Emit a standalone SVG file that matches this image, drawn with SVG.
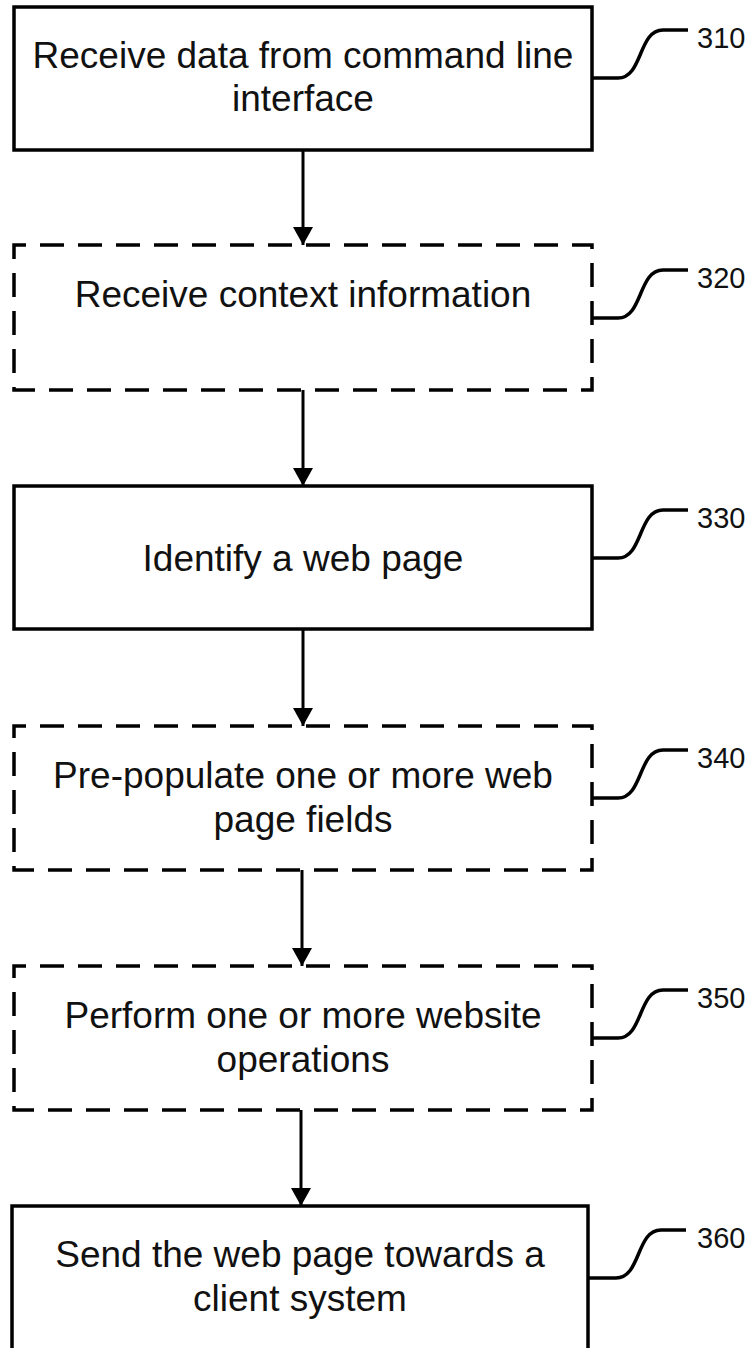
<svg xmlns="http://www.w3.org/2000/svg" width="755" height="1348" viewBox="0 0 755 1348">
<style>
.box{fill:#fff;stroke:#000;stroke-width:3.5}
.dash{stroke-dasharray:24 14;stroke-dashoffset:12}
.t{font-family:"Liberation Sans",Arial,sans-serif;font-size:37px;fill:#111;text-anchor:middle}
.lbl{font-family:"Liberation Sans",Arial,sans-serif;font-size:29px;fill:#111}
.lead{fill:none;stroke:#000;stroke-width:3.5}
.arr{fill:none;stroke:#000;stroke-width:3;marker-end:url(#ah)}
</style>
<defs>
<marker id="ah" viewBox="0 0 18 20" refX="18" refY="10" markerWidth="18" markerHeight="20" markerUnits="userSpaceOnUse" orient="auto">
<path d="M0,0 L18,10 L0,20 Z" fill="#000"/>
</marker>
</defs>
<rect width="755" height="1348" fill="#fff"/>
<g id="connectors">
<line class="arr" x1="303" y1="150" x2="303" y2="245"/>
<line class="arr" x1="303" y1="390" x2="303" y2="486"/>
<line class="arr" x1="303" y1="629" x2="303" y2="726"/>
<line class="arr" x1="302" y1="870" x2="302" y2="966"/>
<line class="arr" x1="301" y1="1110" x2="301" y2="1206"/>
</g>
<g id="n310">
<rect class="box" x="14" y="7" width="578" height="143"/>
<text class="t" x="303" y="68">Receive data from command line</text>
<text class="t" x="303" y="111">interface</text>
<path class="lead" d="M592,78 H618 C643,78 638,30 663,30 H688"/>
<text class="lbl" x="697" y="48">310</text>
</g>
<g id="n320">
<rect class="box dash" x="14" y="245" width="578" height="145"/>
<text class="t" x="303" y="307">Receive context information</text>
<path class="lead" d="M592,318 H618 C643,318 638,270 663,270 H688"/>
<text class="lbl" x="697" y="288">320</text>
</g>
<g id="n330">
<rect class="box" x="14" y="486" width="578" height="143"/>
<text class="t" x="303" y="571">Identify a web page</text>
<path class="lead" d="M592,558 H618 C643,558 638,510 663,510 H688"/>
<text class="lbl" x="697" y="528">330</text>
</g>
<g id="n340">
<rect class="box dash" x="14" y="726" width="578" height="144"/>
<text class="t" x="303" y="788">Pre-populate one or more web</text>
<text class="t" x="303" y="832">page fields</text>
<path class="lead" d="M592,798 H618 C643,798 638,750 663,750 H688"/>
<text class="lbl" x="697" y="768">340</text>
</g>
<g id="n350">
<rect class="box dash" x="14" y="966" width="578" height="144"/>
<text class="t" x="303" y="1028">Perform one or more website</text>
<text class="t" x="303" y="1072">operations</text>
<path class="lead" d="M592,1038 H618 C643,1038 638,990 663,990 H688"/>
<text class="lbl" x="697" y="1008">350</text>
</g>
<g id="n360">
<rect class="box" x="12" y="1206" width="576" height="148"/>
<text class="t" x="300" y="1267">Send the web page towards a</text>
<text class="t" x="300" y="1311">client system</text>
<path class="lead" d="M588,1278 H616 C641,1278 636,1230 661,1230 H686"/>
<text class="lbl" x="697" y="1248">360</text>
</g>
</svg>
